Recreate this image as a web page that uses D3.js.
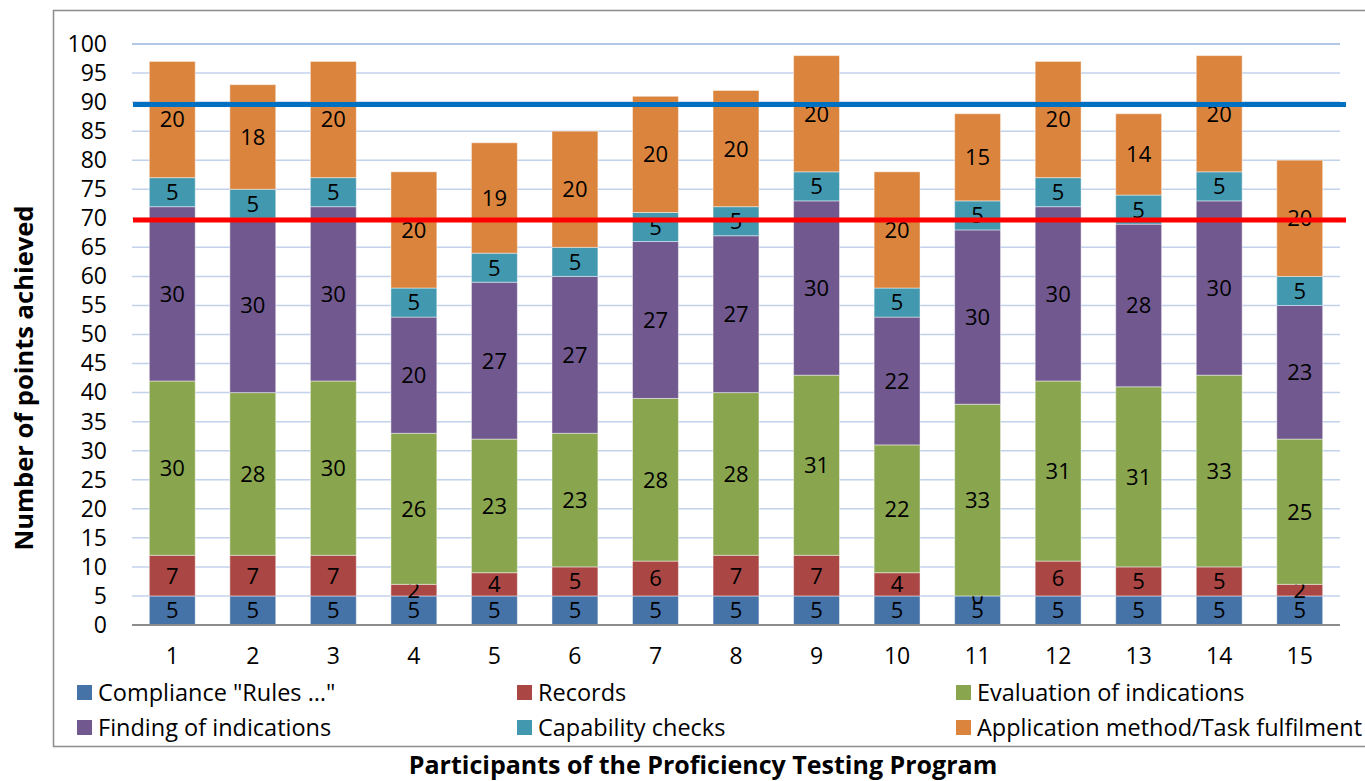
<!DOCTYPE html>
<html>
<head>
<meta charset="utf-8">
<script src="https://cdn.jsdelivr.net/npm/d3@7"></script>
<style>
  body { margin: 0; background: #fff; }
  svg { display: block; font-family: "Open Sans", sans-serif; }
</style>
</head>
<body>
<div id="chart"></div>
<script>
'use strict';

// participants of the proficiency testing program
var participants = ['1', '2', '3', '4', '5', '6', '7', '8', '9', '10', '11', '12', '13', '14', '15'];

var seriesNames = ['Compliance "Rules \u2026"', 'Records', 'Evaluation of indications',
  'Finding of indications', 'Capability checks', 'Application method/Task fulfilment'];

var compliance  = [5, 5, 5, 5, 5, 5, 5, 5, 5, 5, 5, 5, 5, 5, 5];
var records     = [7, 7, 7, 2, 4, 5, 6, 7, 7, 4, 0, 6, 5, 5, 2];
var evaluation  = [30, 28, 30, 26, 23, 23, 28, 28, 31, 22, 33, 31, 31, 33, 25];
var finding     = [30, 30, 30, 20, 27, 27, 27, 27, 30, 22, 30, 30, 28, 30, 23];
var capability  = [5, 5, 5, 5, 5, 5, 5, 5, 5, 5, 5, 5, 5, 5, 5];
var application = [20, 18, 20, 20, 19, 20, 20, 20, 20, 20, 15, 20, 14, 20, 20];

var yTicks = [0, 5, 10, 15, 20, 25, 30, 35, 40, 45, 50, 55, 60, 65, 70, 75, 80, 85, 90, 95, 100];

// threshold lines
var upperLimit = 89.6;
var lowerLimit = 69.7;

var colors = ['#4572A7', '#AA4643', '#89A54E', '#71588F', '#4198AF', '#DB843D'];

var width = 1365, height = 781;
var plotLeft = 132, plotRight = 1340, plotTop = 44, plotBottom = 625;

var svg = d3.select('#chart').append('svg')
  .attr('width', width)
  .attr('height', height);

// chart border
svg.append('rect')
  .attr('x', 53.5).attr('y', 10.5)
  .attr('width', 1340).attr('height', 736)
  .style('fill', 'none')
  .style('stroke', '#8c8c8c')
  .style('stroke-width', 1.5);

var x = d3.scaleBand()
  .domain(participants)
  .range([plotLeft, plotRight])
  .paddingInner(0.43)
  .paddingOuter(0.215);

var y = d3.scaleLinear()
  .domain([0, 100])
  .range([plotBottom, plotTop]);

// gridlines
svg.append('g')
  .selectAll('line').data(yTicks.filter(function(d) { return d > 0; }))
  .enter().append('line')
    .attr('x1', plotLeft).attr('x2', plotRight)
    .attr('y1', function(d) { return y(d); })
    .attr('y2', function(d) { return y(d); })
    .style('stroke', function(d) { return d === 100 ? '#9ab5e0' : '#c3d2ec'; })
    .style('stroke-width', 1.5);

// y axis labels
var yAxis = d3.axisLeft(y).tickValues(yTicks).tickSize(0).tickPadding(25);
svg.append('g')
  .attr('transform', 'translate(' + plotLeft + ',0)')
  .call(yAxis)
  .call(function(g) { g.select('.domain').remove(); })
  .selectAll('text')
    .style('font-size', '23px')
    .style('font-family', '"Open Sans", sans-serif')
    .style('fill', '#000');

// stack the series
var table = participants.map(function(p, i) {
  return {
    p: p,
    s0: compliance[i], s1: records[i], s2: evaluation[i],
    s3: finding[i], s4: capability[i], s5: application[i]
  };
});
var keys = ['s0', 's1', 's2', 's3', 's4', 's5'];
var stacked = d3.stack().keys(keys)(table);

var layers = svg.append('g').selectAll('g').data(stacked)
  .enter().append('g')
    .style('fill', function(d, i) { return colors[i]; });

layers.selectAll('rect').data(function(d) { return d; })
  .enter().append('rect')
    .attr('x', function(d) { return x(d.data.p); })
    .attr('width', x.bandwidth())
    .attr('y', function(d) { return y(d[1]); })
    .attr('height', function(d) { return y(d[0]) - y(d[1]); })
    .style('stroke', 'rgba(255,255,255,0.45)')
    .style('stroke-width', 1);

// x axis line
svg.append('line')
  .attr('x1', plotLeft).attr('x2', plotRight)
  .attr('y1', plotBottom).attr('y2', plotBottom)
  .style('stroke', '#8c8c8c')
  .style('stroke-width', 2);

// threshold lines
svg.append('line')
  .attr('x1', plotLeft + 1).attr('x2', plotRight + 6)
  .attr('y1', y(upperLimit)).attr('y2', y(upperLimit))
  .style('stroke', '#0070C0')
  .style('stroke-width', 5);

svg.append('line')
  .attr('x1', plotLeft + 1).attr('x2', plotRight + 6)
  .attr('y1', y(lowerLimit)).attr('y2', y(lowerLimit))
  .style('stroke', '#FF0000')
  .style('stroke-width', 5);

// value labels (segments of zero height still get their label, as in the original)
layers.selectAll('text').data(function(d) { return d; })
  .enter().append('text')
    .attr('x', function(d) { return x(d.data.p) + x.bandwidth() / 2; })
    .attr('y', function(d) { return y((d[0] + d[1]) / 2); })
    .attr('dy', '0.36em')
    .attr('text-anchor', 'middle')
    .style('fill', '#000')
    .style('font-size', '22px')
    .text(function(d) { return d[1] - d[0]; });

// x axis labels
var xAxis = d3.axisBottom(x).tickSize(0).tickPadding(23);
svg.append('g')
  .attr('transform', 'translate(0,' + plotBottom + ')')
  .call(xAxis)
  .call(function(g) { g.select('.domain').remove(); })
  .selectAll('text')
    .style('font-size', '23px')
    .style('font-family', '"Open Sans", sans-serif')
    .style('fill', '#000');

// legend
var legendCols = [77, 517, 956];
var legendRows = [693, 728];
var legend = svg.append('g').selectAll('g').data(seriesNames)
  .enter().append('g')
    .attr('transform', function(d, i) {
      return 'translate(' + legendCols[i % 3] + ',' + legendRows[Math.floor(i / 3)] + ')';
    });

legend.append('rect')
  .attr('x', 0).attr('y', -8)
  .attr('width', 15).attr('height', 15)
  .style('fill', function(d, i) { return colors[i]; });

legend.append('text')
  .attr('x', 21)
  .attr('dy', '0.36em')
  .style('font-size', '23.5px')
  .style('fill', '#000')
  .text(function(d) { return d; });

// axis titles
svg.append('text')
  .attr('transform', 'translate(33,378) rotate(-90)')
  .attr('text-anchor', 'middle')
  .style('font-size', '25.5px')
  .style('font-weight', 'bold')
  .text('Number of points achieved');

svg.append('rect')
  .attr('x', 395).attr('y', 748)
  .attr('width', 616).attr('height', 33)
  .style('fill', '#fff');

svg.append('text')
  .attr('x', 703)
  .attr('y', 774)
  .attr('text-anchor', 'middle')
  .style('font-size', '25px')
  .style('font-weight', 'bold')
  .text('Participants of the Proficiency Testing Program');
</script>
</body>
</html>
